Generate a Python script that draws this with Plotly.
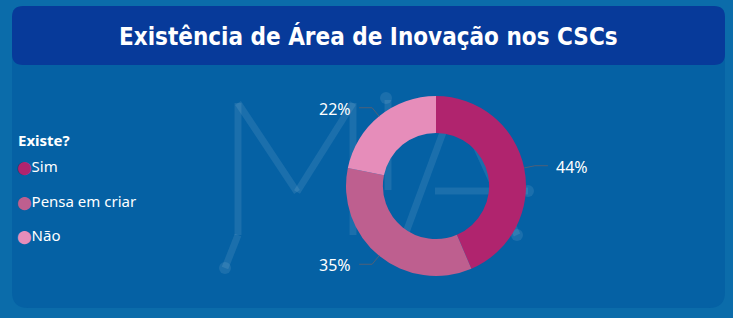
import numpy as np
import plotly.graph_objects as go

# ---- data ----
categories = ["Sim", "Pensa em criar", "Não"]
values = [44, 35, 22]
colors = ["#b0246e", "#be5f8f", "#e68dba"]
title_text = "Existência de Área de Inovação nos CSCs"
legend_title = "Existe?"

W, H = 733, 318
BG_OUT = "#0b6caa"
BG_PANEL = "#0561a4"
BG_TITLE = "#073a9a"
FONT = "Segoe UI, Noto Sans, sans-serif"

# pie geometry (pixels)
CX, CY, R = 436, 186, 90


def rounded_rect(x0, y0, x1, y1, r):
    return (f"M{x0+r},{y0} L{x1-r},{y0} Q{x1},{y0} {x1},{y0+r} "
            f"L{x1},{y1-r} Q{x1},{y1} {x1-r},{y1} L{x0+r},{y1} "
            f"Q{x0},{y1} {x0},{y1-r} L{x0},{y0+r} Q{x0},{y0} {x0+r},{y0} Z")


fig = go.Figure()

fig.add_trace(go.Pie(
    labels=categories, values=values, hole=0.59, sort=False,
    direction="clockwise", rotation=0,
    marker=dict(colors=colors, line=dict(width=0)),
    textinfo="none", showlegend=False, hoverinfo="label+percent",
    domain=dict(x=[(CX - R) / W, (CX + R) / W], y=[1 - (CY + R) / H, 1 - (CY - R) / H]),
))

# legend entries (circle glyph in the name, marker hidden)
for i, (cat, col) in enumerate(zip(categories, colors)):
    fig.add_trace(go.Scatter(
        x=[None], y=[None], mode="markers",
        name=f"<span style='color:{col};font-family:DejaVu Sans;font-size:13px'>⬤</span>{cat}",
        marker=dict(color="rgba(0,0,0,0)", size=1),
        legendgroup=f"g{i}", showlegend=True, hoverinfo="skip",
    ))

shapes = []
# panel
shapes.append(dict(type="path", path=rounded_rect(12, 20, 725, 308, 16),
                   xref="x", yref="y", fillcolor=BG_PANEL, line=dict(width=0), layer="below"))
# watermark (faint logo)
wm = dict(color="rgba(255,255,255,0.09)", width=7)
for seg in [((238, 235), (238, 103)), ((238, 103), (297, 192)), ((297, 192), (353, 103)),
            ((353, 103), (353, 235)), ((238, 235), (225, 268)),
            ((388, 100), (388, 190)),
            ((455, 100), (405, 235)), ((435, 191), (528, 191)), ((455, 100), (517, 235))]:
    (xa, ya), (xb, yb) = seg
    shapes.append(dict(type="line", x0=xa, y0=ya, x1=xb, y1=yb, xref="x", yref="y",
                       line=wm, layer="below"))
for (cx, cy) in [(225, 268), (386, 98), (528, 191), (517, 235)]:
    shapes.append(dict(type="circle", x0=cx - 6, x1=cx + 6, y0=cy - 6, y1=cy + 6,
                       xref="x", yref="y", fillcolor="rgba(255,255,255,0.09)",
                       line=dict(width=0), layer="below"))
# title bar
shapes.append(dict(type="path", path=rounded_rect(12, 6, 725, 65, 11),
                   xref="x", yref="y", fillcolor=BG_TITLE, line=dict(width=0), layer="below"))

annotations = [dict(text=f"<b>{title_text}</b>", x=368 / W, y=1 - 37 / H, xref="paper", yref="paper",
                    showarrow=False, xanchor="center", yanchor="middle",
                    font=dict(color="white", size=24,
                              family="Liberation Sans Narrow, DejaVu Sans Condensed, Roboto Condensed, Roboto"))]

# outside labels with leader lines, positioned from the slice mid-angles
vals = np.array(values, dtype=float)
frac = vals / vals.sum()
mid = (np.cumsum(frac) - frac / 2) * 2 * np.pi  # clockwise from 12 o'clock
for v, a in zip(values, mid):
    sx, cy_ = np.sin(a), -np.cos(a)
    x1, y1 = CX + R * sx, CY + R * cy_
    x2, y2 = CX + (R + 11) * sx, CY + (R + 11) * cy_
    side = 1 if sx >= 0 else -1
    x3 = x2 + side * 13
    shapes.append(dict(type="path", path=f"M{x1},{y1} L{x2},{y2} L{x3},{y2}",
                       xref="x", yref="y", line=dict(color="#4f6078", width=1)))
    annotations.append(dict(text=f"{v}%", x=x3 + side * 6, y=y2 + 1, xref="x", yref="y",
                            showarrow=False, xanchor="left" if side > 0 else "right",
                            yanchor="middle",
                            font=dict(color="white", size=16, family=FONT)))

# legend title as bold text
annotations.append(dict(text=f"<b>{legend_title}</b>", x=16 / W, y=1 - 140 / H,
                        xref="paper", yref="paper", showarrow=False,
                        xanchor="left", yanchor="middle",
                        font=dict(color="white", size=15, family=FONT)))

fig.update_layout(
    width=W, height=H,
    margin=dict(l=0, r=0, t=0, b=0, autoexpand=False),
    paper_bgcolor=BG_OUT, plot_bgcolor="rgba(0,0,0,0)",
    xaxis=dict(range=[0, W], visible=False, fixedrange=True, domain=[0, 1]),
    yaxis=dict(range=[H, 0], visible=False, fixedrange=True, domain=[0, 1]),
    shapes=shapes,
    annotations=annotations,
    legend=dict(
        x=-23 / W, y=1 - 150 / H, xanchor="left", yanchor="top",
        font=dict(color="white", size=15, family=FONT),
        bgcolor="rgba(0,0,0,0)", tracegroupgap=12, itemwidth=30,
    ),
)

fig.write_html("out.html")
